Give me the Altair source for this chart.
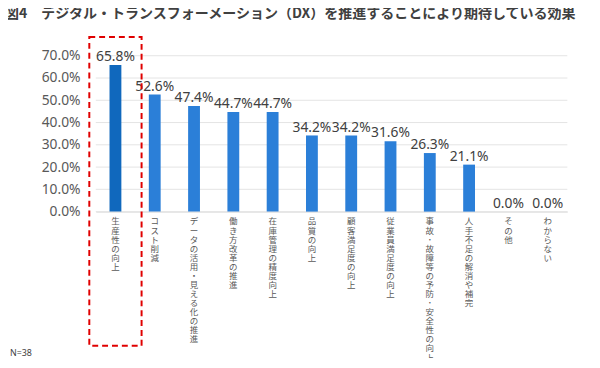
import altair as alt
import pandas as pd

categories = ["生産性の向上", "コスト削減", "データの活用・見える化の推進", "働き方改革の推進",
              "在庫管理の精度向上", "品質の向上", "顧客満足度の向上", "従業員満足度の向上",
              "事故･故障等の予防･安全性の向上", "人手不足の解消や補完", "その他", "わからない"]
values = [65.8, 52.6, 47.4, 44.7, 44.7, 34.2, 34.2, 31.6, 26.3, 21.1, 0.0, 0.0]
highlight = [True] + [False] * 11
y_ticks = [0, 10, 20, 30, 40, 50, 60, 70]

df = pd.DataFrame({
    "cat": categories,
    "val": values,
    "hl": highlight,
    "lbl": [f"{v:.1f}%" for v in values],
    "vert": ["\n".join(list(c)) for c in categories],
})
ticks_df = pd.DataFrame({"val": y_ticks})

JP = "Noto Sans CJK JP"
x_axis = alt.Axis(labels=False, ticks=False, title=None, domain=True,
                  domainColor="#d9d9d9", domainWidth=1, grid=False)
x = alt.X("cat:N", sort=categories, axis=x_axis,
          scale=alt.Scale(paddingInner=0.7, paddingOuter=0.35))
yscale = alt.Scale(domain=[0, 70], nice=False)
y_axis = alt.Axis(values=y_ticks, labelExpr="format(datum.value, '.1f') + '%'",
                  title=None, domain=False, ticks=False, labelPadding=16,
                  labelOverlap=False, grid=False,
                  labelFontSize=14, labelColor="#595959", labelFont="Noto Sans")
y_enc = alt.Y("val:Q", scale=yscale, axis=y_axis)

base = alt.Chart(df)

grid = alt.Chart(ticks_df).mark_rule(color="#e4e4e4", strokeWidth=1).encode(y=y_enc)

bars = base.mark_bar(size=12).encode(
    x=x,
    y=y_enc,
    color=alt.Color("hl:N", scale=alt.Scale(domain=[True, False], range=["#1068bd", "#2b7fd8"]),
                    legend=None),
)

vals = base.mark_text(baseline="bottom", dy=-1, fontSize=14, font="Noto Sans", color="#404040").encode(
    x=x, y=y_enc, text="lbl:N"
)

cat_labels = base.mark_text(baseline="top", align="center", fontSize=8.6, lineHeight=9.2,
                            lineBreak="\n", font=JP, color="#595959").encode(
    x=x, y=alt.value(164), text="vert:N"
)

box = base.mark_bar(width=53, fill="transparent", stroke="#e00000", strokeWidth=2,
                    strokeDash=[6, 4]).encode(
    x=x, y=alt.value(-19), y2=alt.value(294)
).transform_filter(alt.datum.hl == True)

note = base.mark_text(align="left", baseline="middle", fontSize=9, font="Noto Sans",
                      color="#404040", text="N=38").encode(
    x=alt.value(-87), y=alt.value(301)
).transform_filter(alt.datum.hl == True)

chart = alt.layer(grid, bars, vals, cat_labels, box, note).properties(
    width=478, height=158,
    padding={"left": 89, "top": 46, "right": 25, "bottom": 146},
    autosize="none",
    title=alt.Title("図4　デジタル・トランスフォーメーション（DX）を推進することにより期待している効果",
                    anchor="start", frame="group", dx=-92, fontSize=14.2, font=JP, fontWeight="bold",
                    color="#404040", offset=15),
).configure_view(stroke=None)

chart.save("out.html", embed_options={"renderer": "svg", "actions": False})
